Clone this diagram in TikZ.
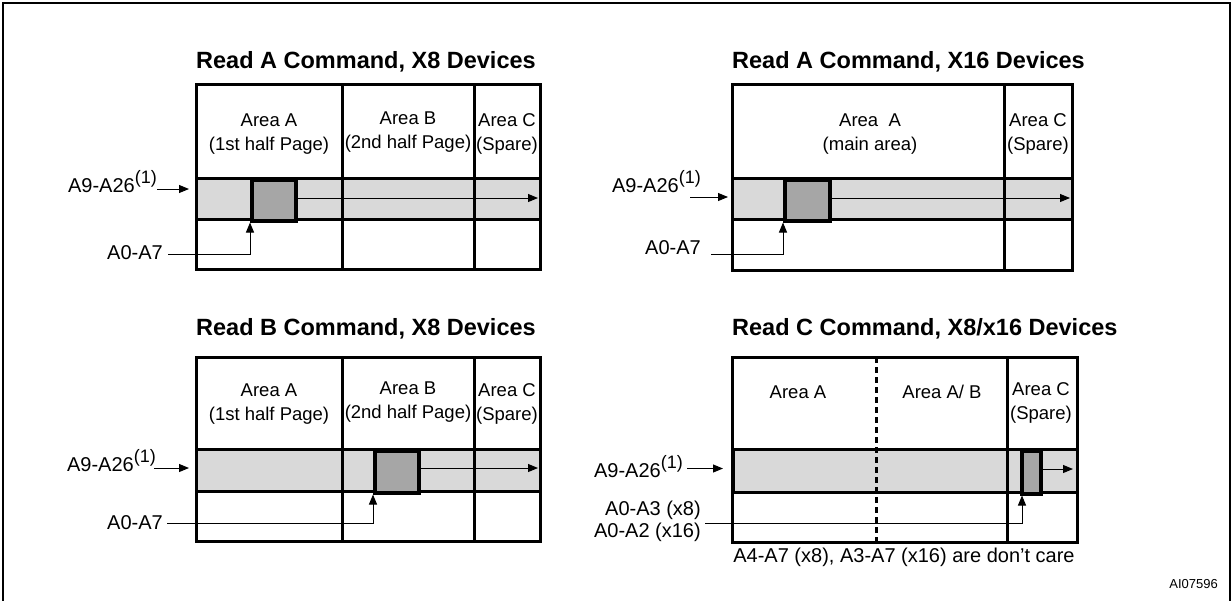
\documentclass[tikz,border=0pt]{standalone}
\usepackage{fontspec}
\setmainfont{Liberation Sans}
\usetikzlibrary{arrows.meta}
\definecolor{lightgr}{gray}{0.85}
\definecolor{darkgr}{gray}{0.65}
\newcommand{\supone}{\raisebox{0.42em}{\fontsize{18}{18}\selectfont(1)}}
\begin{document}
\begin{tikzpicture}[x=1pt,y=-1pt,
  grid/.style={line width=3pt},
  lbl/.style={font=\fontsize{18.5}{24}\selectfont, align=center, inner sep=0pt},
  olbl/.style={font=\fontsize{20}{22}\selectfont, inner sep=0pt},
  ttl/.style={font=\fontsize{23.5}{28}\selectfont\bfseries, anchor=base west, inner sep=0pt},
  arr/.style={line width=1pt, -{Triangle[length=10pt,width=8pt]}},
  cell/.style={fill=darkgr, draw=black, line width=3.5pt, inner sep=0pt, anchor=north west},
  dashdiv/.style={line width=3pt, dash pattern=on 6pt off 4pt}]
\useasboundingbox (0,0) rectangle (1232,600);
\draw[line width=2pt] (3,610) -- (3,3) -- (1230,3) -- (1230,610);

% ---------------- Panel 1 ----------------
\node[ttl] (t1) at (196,68) {Read A Command, X8 Devices};
\fill[lightgr] (196,178) rectangle (540,219);
\draw[grid] (196,84) rectangle (540,269);
\draw[grid] (196,178) -- (540,178) (196,219) -- (540,219);
\draw[grid] (342,84) -- (342,269) (474,84) -- (474,269);
\node[cell, minimum width=44pt, minimum height=41pt] (c1) at (250,178) {};
\node[lbl] (a1) at (269,134) {Area A\\(1st half Page)};
\node[lbl] (b1) at (408,132) {Area B\\(2nd half Page)};
\node[lbl] (s1) at (507,134) {Area C\\(Spare)};
\coordinate (e1) at (538,198);
\draw[arr] (c1.east |- e1) -- (e1);
\node[olbl, anchor=base east] (r1) at (157,192) {A9-A26\supone};
\coordinate (p1) at (189,189);
\draw[arr] (r1.east |- p1) -- (p1);
\node[olbl, anchor=east] (q1) at (163,253) {A0-A7};
\draw[arr] ([xshift=5pt,yshift=-1pt]q1.east) -| (c1.south west);

% ---------------- Panel 2 ----------------
\node[ttl] (t2) at (732,68) {Read A Command, X16 Devices};
\fill[lightgr] (732,178) rectangle (1072,219);
\draw[grid] (732,84) rectangle (1072,270);
\draw[grid] (732,178) -- (1072,178) (732,219) -- (1072,219);
\draw[grid] (1004,84) -- (1004,270);
\node[cell, minimum width=45pt, minimum height=41pt] (c2) at (783,178) {};
\node[lbl] (a2) at (870,134) {Area~~A\\(main area)};
\node[lbl] (s2) at (1038,134) {Area C\\(Spare)};
\coordinate (e2) at (1070,198);
\draw[arr] (c2.east |- e2) -- (e2);
\node[olbl, anchor=base east] (r2) at (701,192) {A9-A26\supone};
\coordinate (p2) at (728,197);
\draw[arr] ([xshift=-11pt]r2.east |- p2) -- (p2);
\node[olbl, anchor=east] (q2) at (701,248) {A0-A7};
\draw[arr] ([xshift=10pt,yshift=-6pt]q2.east) -| (c2.south west);

% ---------------- Panel 3 ----------------
\node[ttl] (t3) at (196,335) {Read B Command, X8 Devices};
\fill[lightgr] (196,449) rectangle (540,491);
\draw[grid] (196,357) rectangle (540,541);
\draw[grid] (196,449) -- (540,449) (196,491) -- (540,491);
\draw[grid] (342,357) -- (342,541) (474,357) -- (474,541);
\node[cell, minimum width=44pt, minimum height=42pt] (c3) at (373,449) {};
\node[lbl] (a3) at (269,404) {Area A\\(1st half Page)};
\node[lbl] (b3) at (408,402) {Area B\\(2nd half Page)};
\node[lbl] (s3) at (507,404) {Area C\\(Spare)};
\coordinate (e3) at (538,468);
\draw[arr] (c3.east |- e3) -- (e3);
\node[olbl, anchor=base east] (r3) at (156,471) {A9-A26\supone};
\coordinate (p3) at (189,468);
\draw[arr] ([xshift=-2pt]r3.east |- p3) -- (p3);
\node[olbl, anchor=east] (q3) at (163,523) {A0-A7};
\draw[arr] ([xshift=4pt]q3.east) -| (c3.south west);

% ---------------- Panel 4 ----------------
\node[ttl] (t4) at (732,335) {Read C Command, X8/x16 Devices};
\fill[lightgr] (732,449) rectangle (1077,492);
\draw[grid] (732,357) rectangle (1077,542);
\draw[grid] (732,449) -- (1077,449) (732,492) -- (1077,492);
\draw[line width=4pt] (733,449) -- (733,492);
\draw[dashdiv] (876,357) -- (876,542);
\draw[grid] (1007,357) -- (1007,542);
\node[cell, minimum width=19pt, minimum height=43pt] (c4) at (1020,449) {};
\node[lbl] (a4) at (798,392) {Area A};
\node[lbl] (b4) at (942,392) {Area A/ B};
\node[lbl] (s4) at (1041,402.5) {Area C\\(Spare)};
\coordinate (e4) at (1073,469);
\draw[arr] (c4.east |- e4) -- (e4);
\node[olbl, anchor=base east] (r4) at (683,477) {A9-A26\supone};
\coordinate (p4) at (723,468.5);
\draw[arr] ([xshift=4pt]r4.east |- p4) -- (p4);
\node[olbl, anchor=east, align=right] (q4) at (701,521) {A0-A3 (x8)\\A0-A2 (x16)};
\draw[arr] ([xshift=4pt,yshift=-2pt]q4.east) -| ([xshift=2pt]c4.south west);
\node[olbl] (n4) at (904,557) {A4-A7 (x8), A3-A7 (x16) are don't care};

\node[font=\fontsize{13}{15}\selectfont, anchor=east, inner sep=0pt] (id) at (1218,584) {AI07596};
\end{tikzpicture}
\end{document}
